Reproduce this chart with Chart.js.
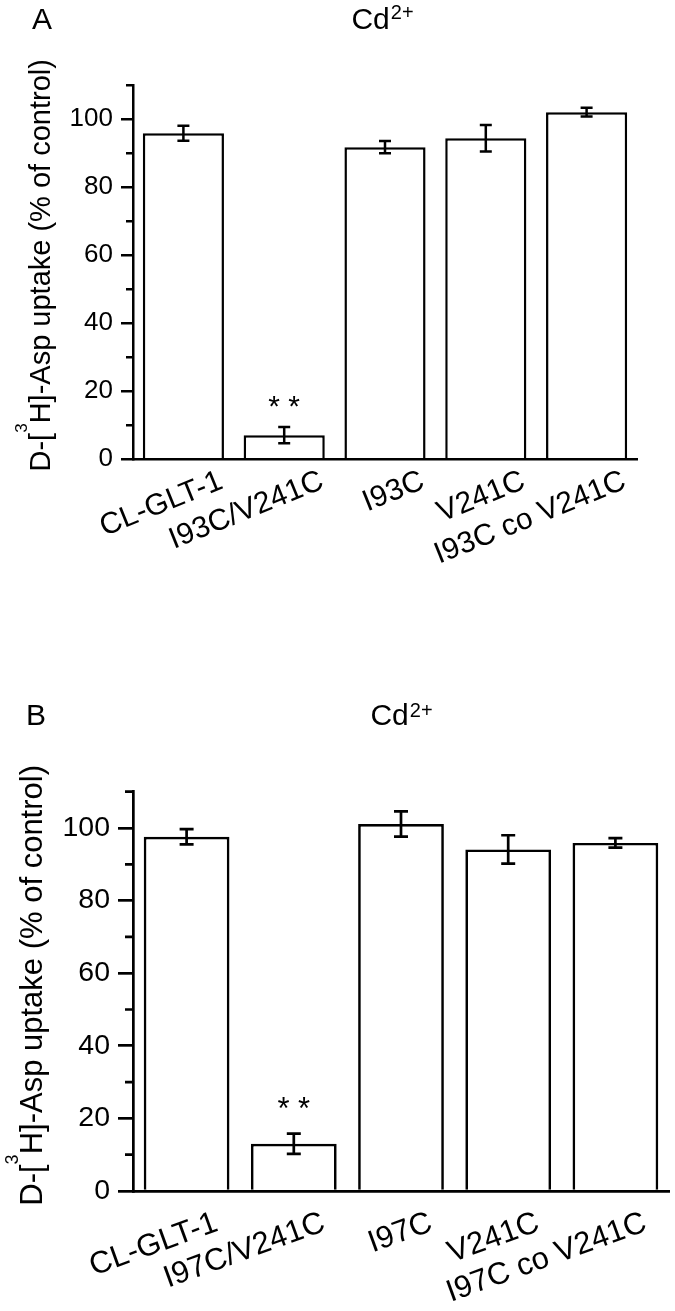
<!DOCTYPE html>
<html><head><meta charset="utf-8">
<script src="https://cdn.jsdelivr.net/npm/chart.js@4.4.0/dist/chart.umd.min.js"></script>
<style>
html,body{margin:0;padding:0;background:#fff;overflow:hidden}
#wrap{position:relative;width:675px;height:1311px;background:#fff}
canvas{position:absolute;left:0}
</style></head><body>
<div id="wrap">
<canvas id="cA" width="675" height="650" style="top:0px"></canvas>
<canvas id="cB" width="675" height="661" style="top:650px"></canvas>
</div>
<script>
// ---------- data ----------
const categoriesA = ['CL-GLT-1', 'I93C/V241C', 'I93C', 'V241C', 'I93C co V241C'];
const valuesA = [95.9, 7.1, 91.8, 94.4, 102.1];
const errorsA = [2.2, 2.4, 1.8, 3.9, 1.3];
const marksA = ['', '* *', '', '', ''];
const markLevelsA = [null, 18, null, null, null];

const categoriesB = ['CL-GLT-1', 'I97C/V241C', 'I97C', 'V241C', 'I97C co V241C'];
const valuesB = [97.6, 13.0, 101.1, 94.1, 95.9];
const errorsB = [2.1, 2.8, 3.5, 3.9, 1.3];
const marksB = ['', '* *', '', '', ''];
const markLevelsB = [null, 24.9, null, null, null];

const yMin = 0, yMax = 110, yStep = 20;
const minorTicks = [10, 30, 50, 70, 90, 110];
const panelLetters = ['A', 'B'];
const titleMain = 'Cd', titleSup = '2+';
const yTitleParts = ['D-[', '3', 'H]-Asp uptake (% of control)'];

// ---------- rendering ----------
const FONT = '"Liberation Sans", Arial, Helvetica, sans-serif';
Chart.defaults.color = '#000';
Chart.defaults.font.family = FONT;

const decor = {
  id: 'decor',
  afterDatasetsDraw(chart, args, o) {
    const ctx = chart.ctx, ys = chart.scales.y;
    const ds = chart.data.datasets[0];
    const meta = chart.getDatasetMeta(0);
    ctx.save();
    ctx.strokeStyle = '#000';
    ctx.lineWidth = o.lw;
    ds.errors.forEach((e, i) => {
      const bx = meta.data[i].x, v = ds.data[i];
      const y1 = ys.getPixelForValue(v + e), y2 = ys.getPixelForValue(v - e);
      ctx.beginPath();
      ctx.moveTo(bx, y1); ctx.lineTo(bx, y2);
      ctx.moveTo(bx - o.cap, y1); ctx.lineTo(bx + o.cap, y1);
      ctx.moveTo(bx - o.cap, y2); ctx.lineTo(bx + o.cap, y2);
      ctx.stroke();
    });
    ctx.fillStyle = '#000';
    ctx.font = o.starFont + 'px ' + FONT;
    ctx.textAlign = 'center';
    ctx.textBaseline = 'alphabetic';
    ds.marks.forEach((m, i) => {
      if (!m) return;
      const bx = meta.data[i].x;
      ctx.fillText(m, bx, ys.getPixelForValue(ds.markLevels[i]) + o.starFont * 0.58);
    });
    ctx.restore();
  },
  afterDraw(chart, args, o) {
    const ctx = chart.ctx, ys = chart.scales.y, ca = chart.chartArea;
    ctx.save();
    // minor ticks
    ctx.strokeStyle = '#000';
    ctx.lineWidth = o.lw;
    ctx.beginPath();
    minorTicks.forEach(v => {
      const py = ys.getPixelForValue(v);
      ctx.moveTo(ca.left - o.minorLen, py); ctx.lineTo(ca.left, py);
    });
    ctx.stroke();
    ctx.fillStyle = '#000';
    // panel letter
    ctx.textAlign = 'left';
    ctx.textBaseline = 'alphabetic';
    ctx.font = o.headFont + 'px ' + FONT;
    ctx.fillText(o.letter, o.letterX, o.headY);
    // title Cd2+
    ctx.font = o.headFont + 'px ' + FONT;
    const w1 = ctx.measureText(titleMain).width;
    ctx.font = o.headSupFont + 'px ' + FONT;
    const w2 = ctx.measureText(titleSup).width;
    const cx = (ca.left + ca.right) / 2 + o.headShift;
    const sx = cx - (w1 + w2) / 2;
    ctx.font = o.headFont + 'px ' + FONT;
    ctx.fillText(titleMain, sx, o.headY);
    ctx.font = o.headSupFont + 'px ' + FONT;
    ctx.fillText(titleSup, sx + w1 + 1, o.headSupY);
    // y title
    ctx.font = o.yTitleFont + 'px ' + FONT;
    const a = ctx.measureText(yTitleParts[0]).width;
    const c = ctx.measureText(yTitleParts[2]).width;
    ctx.font = o.yTitleSupFont + 'px ' + FONT;
    const b = ctx.measureText(yTitleParts[1]).width;
    const total = a + b + c;
    const cy = (ca.top + ca.bottom) / 2 + o.yTitleShift;
    ctx.translate(o.yTitleX, cy);
    ctx.rotate(-Math.PI / 2);
    let px = -total / 2;
    ctx.font = o.yTitleFont + 'px ' + FONT;
    ctx.fillText(yTitleParts[0], px, 0); px += a;
    ctx.font = o.yTitleSupFont + 'px ' + FONT;
    ctx.fillText(yTitleParts[1], px, -o.yTitleSupRaise); px += b;
    ctx.font = o.yTitleFont + 'px ' + FONT;
    ctx.fillText(yTitleParts[2], px, 0);
    ctx.restore();
  }
};

function makeChart(id, cats, vals, errs, marks, levels, s) {
  return new Chart(document.getElementById(id), {
    type: 'bar',
    data: {
      labels: cats,
      datasets: [{
        data: vals,
        errors: errs,
        marks: marks,
        markLevels: levels,
        backgroundColor: '#ffffff',
        borderColor: '#000000',
        borderWidth: s.lw,
        borderSkipped: 'start',
        barPercentage: s.barPct,
        categoryPercentage: 1
      }]
    },
    options: {
      responsive: false,
      animation: false,
      devicePixelRatio: 1,
      layout: { padding: { top: s.padTop, right: s.padRight, bottom: 0, left: 0 } },
      plugins: {
        legend: { display: false },
        tooltip: { enabled: false },
        decor: s
      },
      scales: {
        x: {
          grid: { display: false, drawTicks: false },
          border: { display: true, color: '#000', width: s.lw },
          ticks: {
            autoSkip: false,
            minRotation: s.rot, maxRotation: s.rot,
            labelOffset: s.labelOffset,
            padding: s.xPad,
            font: { size: s.xFont, family: FONT },
            color: '#000'
          },
          afterFit(sc) { sc.height = s.xHeight; }
        },
        y: {
          min: yMin, max: yMax,
          grid: { drawOnChartArea: false, drawTicks: true, tickLength: s.majorLen, color: '#000', lineWidth: s.lw },
          border: { display: true, color: '#000', width: s.lw },
          ticks: {
            stepSize: yStep,
            includeBounds: false,
            padding: s.tickPad,
            font: { size: s.tickFont, family: FONT },
            color: '#000'
          },
          afterFit(sc) { sc.width = s.yWidth; }
        }
      }
    },
    plugins: [decor]
  });
}

const styleA = {
  padTop: 85.3, padRight: 38, yWidth: 133, xHeight: 190.7,
  tickFont: 26, xFont: 30, rot: 22, labelOffset: 38, xPad: 4,
  majorLen: 12, minorLen: 7, tickPad: 8, lw: 2.5, barPct: 0.805, cap: 6,
  starFont: 30,
  letter: panelLetters[0], letterX: 32, headFont: 30, headSupFont: 20, headY: 29, headSupY: 19, headShift: -3,
  yTitleFont: 29, yTitleSupFont: 17, yTitleX: 50, yTitleSupRaise: 23, yTitleShift: -7
};
const styleB = {
  padTop: 141.7, padRight: 6, yWidth: 133, xHeight: 120,
  tickFont: 28.5, xFont: 31, rot: 20, labelOffset: 30, xPad: 13.5,
  majorLen: 15, minorLen: 8, tickPad: 8, lw: 2.7, barPct: 0.8, cap: 7,
  starFont: 31,
  letter: panelLetters[1], letterX: 26, headFont: 30, headSupFont: 20, headY: 75, headSupY: 66.7, headShift: 0,
  yTitleFont: 31, yTitleSupFont: 18, yTitleX: 42, yTitleSupRaise: 24, yTitleShift: -6
};

makeChart('cA', categoriesA, valuesA, errorsA, marksA, markLevelsA, styleA);
makeChart('cB', categoriesB, valuesB, errorsB, marksB, markLevelsB, styleB);
</script>
</body></html>
